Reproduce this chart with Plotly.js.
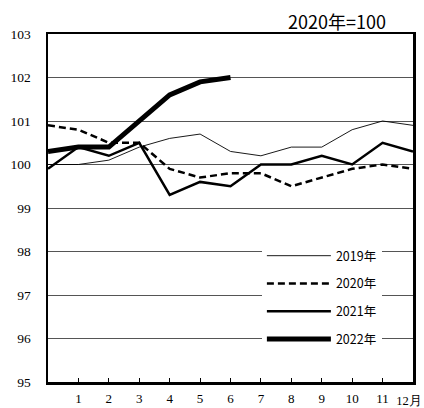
<!DOCTYPE html>
<html>
<head>
<meta charset="utf-8">
<script src="https://cdn.plot.ly/plotly-3.0.1.min.js"></script>
<style>html,body{margin:0;padding:0;background:#fff;}#chart{width:424px;height:408px;}</style>
</head>
<body>
<div id="chart"></div>
<script>
const months = [0,1,2,3,4,5,6,7,8,9,10,11,12];
const tickVals = [1,2,3,4,5,6,7,8,9,10,11];
const tickText = ["1","2","3","4","5","6","7","8","9","10","11"];
const lastLabel = "12月";
const y2019 = [100.0,100.0,100.1,100.4,100.6,100.7,100.3,100.2,100.4,100.4,100.8,101.0,100.9];
const y2020 = [100.9,100.8,100.5,100.5,99.9,99.7,99.8,99.8,99.5,99.7,99.9,100.0,99.9];
const y2021 = [99.9,100.4,100.2,100.5,99.3,99.6,99.5,100.0,100.0,100.2,100.0,100.5,100.3];
const y2022 = [100.3,100.4,100.4,101.0,101.6,101.9,102.0];
const names = ["2019年","2020年","2021年","2022年"];

const traces = [
  {x: [], y: [], xaxis: 'x2', yaxis: 'y', mode: 'lines', showlegend: false, hoverinfo: 'skip'},
  {x: months, y: y2019, name: names[0], legendgroup: 'a', mode: 'lines', line: {color: '#000', width: 0.9}},
  {x: months, y: y2020, name: names[1], legendgroup: 'b', mode: 'lines', line: {color: '#000', width: 2.5, dash: '7px,4px'}},
  {x: months, y: y2021, name: names[2], legendgroup: 'c', mode: 'lines', line: {color: '#000', width: 2.5}},
  {x: months.slice(0, y2022.length), y: y2022, name: names[3], legendgroup: 'd', mode: 'lines', line: {color: '#000', width: 5}}
];

const layout = {
  width: 424, height: 408,
  margin: {l: 48, r: 11, t: 34, b: 26},
  paper_bgcolor: '#fff', plot_bgcolor: '#fff',
  title: {
    text: '2020年=100',
    font: {family: '"Noto Sans CJK JP", sans-serif', size: 18, color: '#000'},
    xref: 'paper', x: 0.926, xanchor: 'right',
    yref: 'container', y: 0.944, yanchor: 'middle'
  },
  xaxis: {
    range: [0, 12], tickvals: tickVals, ticktext: tickText,
    showgrid: false, zeroline: false,
    showline: true, linecolor: '#000', linewidth: 2.5, mirror: true,
    ticks: 'inside', ticklen: 4, tickcolor: '#000', tickwidth: 1,
    ticklabelstandoff: 3,
    tickfont: {family: 'Liberation Serif, Times New Roman, serif', size: 13, color: '#000'}
  },
  xaxis2: {
    overlaying: 'x', anchor: 'y', side: 'bottom',
    range: [0, 12], tickvals: [11.87], ticktext: [lastLabel],
    showgrid: false, zeroline: false, showline: false, ticks: '',
    ticklabelstandoff: 9, ticklabeloverflow: 'allow',
    tickfont: {family: 'Liberation Serif, Times New Roman, serif', size: 12.5, color: '#000'}
  },
  yaxis: {
    range: [95, 103], dtick: 1, tick0: 95,
    showgrid: true, gridcolor: '#555', gridwidth: 1, zeroline: false,
    showline: true, linecolor: '#000', linewidth: 2.5, mirror: true,
    ticks: '', ticklabelstandoff: 12,
    tickfont: {family: 'Liberation Serif, Times New Roman, serif', size: 13.5, color: '#000'}
  },
  showlegend: true,
  legend: {
    x: 0.586, y: 0.405, xanchor: 'left', yanchor: 'top',
    bgcolor: '#fff', borderwidth: 0,
    itemwidth: 64, tracegroupgap: 8.5,
    font: {family: '"Noto Sans CJK JP", sans-serif', size: 12.5, color: '#000'}
  }
};

Plotly.newPlot('chart', traces, layout, {staticPlot: true, displayModeBar: false});
</script>
</body>
</html>
